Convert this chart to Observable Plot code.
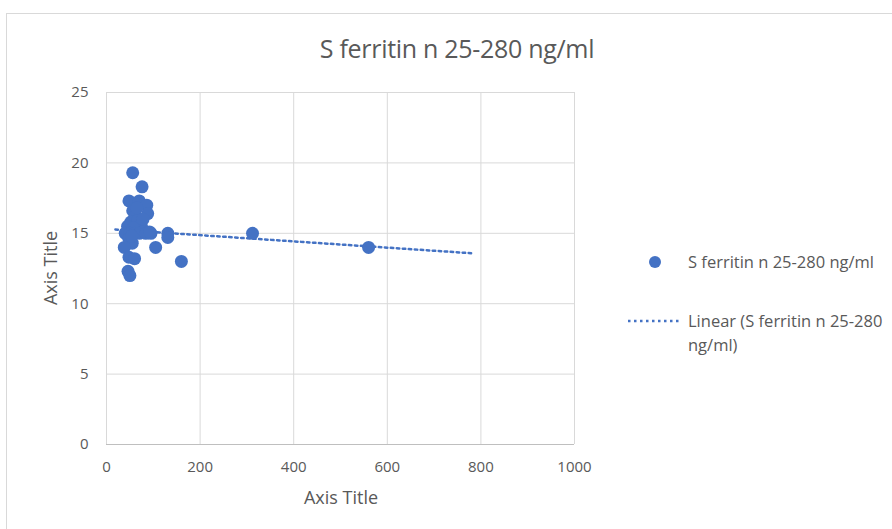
<!DOCTYPE html>
<html>
<head>
<meta charset="utf-8">
<script src="https://cdn.jsdelivr.net/npm/d3@7"></script>
<script src="https://cdn.jsdelivr.net/npm/@observablehq/plot@0.6"></script>
<style>
  html, body { margin: 0; padding: 0; background: #fff; }
  #wrap { position: relative; width: 892px; height: 529px; overflow: hidden; background: #fff; font-family: "Open Sans", sans-serif; color: #595959; }
  #frame { position: absolute; left: 6px; top: 13px; width: 1000px; height: 1000px; border: 1px solid #d9d9d9; box-sizing: border-box; }
  #title { position: absolute; left: 0; top: 32px; width: 914px; text-align: center; font-size: 25px; line-height: 32px; color: #595959; letter-spacing: -0.3px; }
  #chart { position: absolute; left: 0; top: 70px; }
  .lbl { position: absolute; font-size: 16.5px; color: #595959; white-space: nowrap; line-height: 22px; }
  #ytitle { left: 50px; top: 268px; font-size: 18px; transform: translate(-50%, -50%) rotate(-90deg); }
  #xtitle { left: 341px; top: 497px; font-size: 18px; transform: translate(-50%, -50%); }
  #legdot { position: absolute; left: 649px; top: 256px; width: 12px; height: 12px; border-radius: 50%; background: #4472C4; }
  #legline { position: absolute; left: 627px; top: 318px; }
  #leg1 { left: 688px; top: 251px; }
  #leg2 { left: 688px; top: 309px; line-height: 24px; }
</style>
</head>
<body>
<div id="wrap">
  <div id="frame"></div>
  <div id="title"></div>
  <div id="chart"></div>
  <div class="lbl" id="ytitle">Axis Title</div>
  <div class="lbl" id="xtitle">Axis Title</div>
  <div id="legdot"></div>
  <svg id="legline" width="54" height="6"><line x1="1" y1="3" x2="53" y2="3" stroke="#4472C4" stroke-width="2.5" stroke-dasharray="2.5 3.5"/></svg>
  <div class="lbl" id="leg1"></div>
  <div class="lbl" id="leg2"></div>
</div>
<script>
const title = "S ferritin n 25-280 ng/ml";
const seriesName = "S ferritin n 25-280 ng/ml";
const trendName = ["Linear (S ferritin n 25-280", "ng/ml)"];
const xTicks = [0, 200, 400, 600, 800, 1000];
const yTicks = [0, 5, 10, 15, 20, 25];

// S ferritin (x) and paired value (y)
const ferritin = [56, 76, 48, 70, 86, 88, 56, 62, 52, 66, 74, 45, 58, 80, 40, 50, 60, 70, 84, 95, 48, 55, 38, 105, 131, 131, 48, 60, 160, 46, 50, 312, 560, 65, 78, 54, 92];
const value    = [19.3, 18.3, 17.3, 17.3, 17.0, 16.4, 16.6, 16.2, 15.8, 15.9, 15.6, 15.5, 15.4, 15.2, 15.0, 15.0, 15.0, 15.0, 15.0, 15.0, 14.6, 14.3, 14.0, 14.0, 15.0, 14.7, 13.3, 13.2, 13.0, 12.3, 12.0, 15.0, 14.0, 16.8, 16.0, 14.8, 15.1];

// Linear trendline end points (as drawn)
const trendX = [19, 786];
const trendY = [15.27, 13.57];

const points = ferritin.map((x, i) => ({x, y: value[i]}));
const trend = trendX.map((x, i) => ({x, y: trendY[i]}));

document.getElementById("title").textContent = title;
document.getElementById("leg1").textContent = seriesName;
document.getElementById("leg2").innerHTML = trendName[0] + "<br>" + trendName[1];

const blue = "#4472C4";
const chart = Plot.plot({
  width: 892,
  height: 459,
  marginLeft: 106,
  marginRight: 318,
  marginTop: 22,
  marginBottom: 85,
  style: { fontFamily: "Open Sans, sans-serif", fontSize: "15px", color: "#595959", background: "transparent" },
  x: { domain: [0, 1000] },
  y: { domain: [0, 25] },
  marks: [
    Plot.gridX(xTicks, { stroke: "#d9d9d9", strokeOpacity: 1 }),
    Plot.gridY(yTicks, { stroke: "#d9d9d9", strokeOpacity: 1 }),
    Plot.ruleY([0], { stroke: "#bfbfbf" }),
    Plot.axisX(xTicks, { tickSize: 0, tickPadding: 17, label: null, fontSize: 15, tickFormat: d => String(d) }),
    Plot.axisY(yTicks, { tickSize: 0, tickPadding: 18, label: null, fontSize: 15, tickFormat: d => String(d) }),
    Plot.line(trend, { x: "x", y: "y", stroke: blue, strokeWidth: 2.5, strokeDasharray: "2.5 3.5" }),
    Plot.dot(points, { x: "x", y: "y", r: 6.5, fill: blue, stroke: "none" })
  ]
});
document.getElementById("chart").appendChild(chart);
</script>
</body>
</html>
